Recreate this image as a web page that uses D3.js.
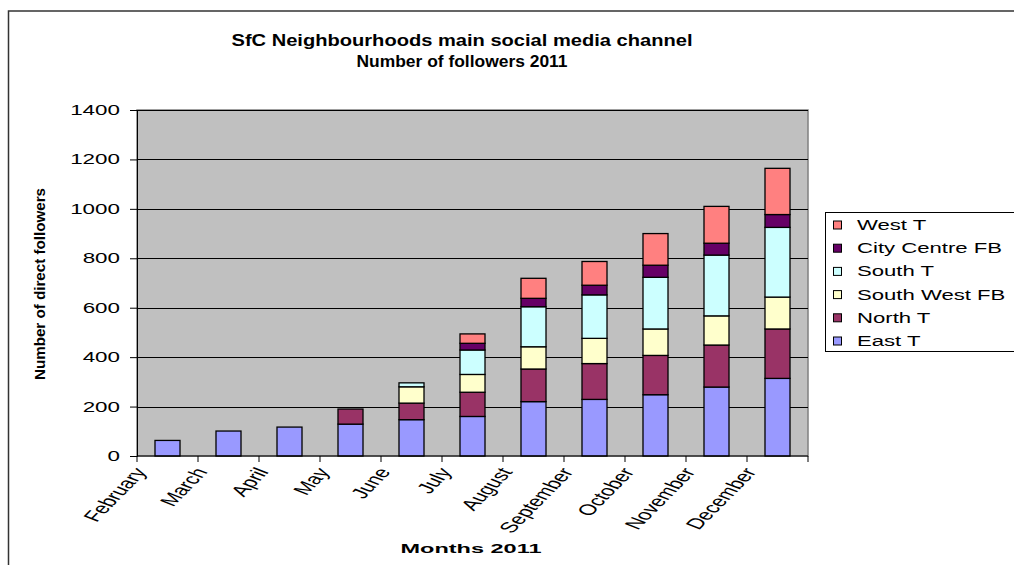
<!DOCTYPE html>
<html><head><meta charset="utf-8">
<script src="https://cdn.jsdelivr.net/npm/d3@7"></script>
<style>
body{margin:0;background:#fff;}
svg{display:block;font-family:"Liberation Sans",Arial,sans-serif;}
</style></head>
<body><svg id="c" width="1014" height="565"></svg>
<script>
const months = ["February","March","April","May","June","July","August","September","October","November","December"];
const eastT        = [63,101,117,129,147,160,220,229,248,279,314];
const northT       = [0,0,0,61,67,98,132,145,159,170,200];
const southWestFB  = [0,0,0,0,66,72,90,102,107,118,129];
const southT       = [0,0,0,0,16,99,162,176,209,246,282];
const cityCentreFB = [0,0,0,0,0,27,34,39,49,48,52];
const westT        = [0,0,0,0,0,38,81,96,128,149,187];
const seriesNames  = ["East T","North T","South West FB","South T","City Centre FB","West T"];
const seriesColors = ["#9999FF","#993366","#FFFFCC","#CCFFFF","#660066","#FF8080"];
const yTicks = [0,200,400,600,800,1000,1200,1400];

const seriesVals = [eastT,northT,southWestFB,southT,cityCentreFB,westT];
const rows = months.map((m,i)=>{const r={month:m};seriesNames.forEach((s,j)=>r[s]=seriesVals[j][i]);return r;});
const stack = d3.stack().keys(seriesNames)(rows);

const svg = d3.select("#c");
const L=137,R=808,T=110,B=456;
const x = d3.scaleBand().domain(months).range([L,R]).padding(0);
const y = d3.scaleLinear().domain([0,1400]).range([B,T]);
const barW = x.step()*0.41;

function stretch(sel,f){sel.each(function(){const w=this.getComputedTextLength();d3.select(this).attr("textLength",w*f).attr("lengthAdjust","spacingAndGlyphs");});}

// outer border
svg.append("rect").attr("x",8.5).attr("y",11).attr("width",1100).attr("height",700)
  .attr("fill","none").attr("stroke","#333").attr("stroke-width",1.5);

// plot area
svg.append("rect").attr("x",L).attr("y",T).attr("width",R-L).attr("height",B-T)
  .attr("fill","#C0C0C0").attr("stroke","#808080").attr("stroke-width",1.5);

// gridlines
svg.append("g").selectAll("line").data(yTicks.slice(1)).join("line")
  .attr("x1",L).attr("x2",R).attr("y1",d=>Math.round(y(d))+0.5).attr("y2",d=>Math.round(y(d))+0.5)
  .attr("stroke","#000").attr("stroke-width",1);

// bars
svg.append("g").selectAll("g").data(stack).join("g")
  .attr("fill",(d,i)=>seriesColors[i])
  .selectAll("rect").data(d=>d.filter(p=>p[1]-p[0]>0)).join("rect")
  .attr("x",d=>x(d.data.month)+(x.step()-barW)/2)
  .attr("width",barW)
  .attr("y",d=>y(d[1]))
  .attr("height",d=>y(d[0])-y(d[1]))
  .attr("stroke","#000").attr("stroke-width",1.3);

// y axis
const ya = svg.append("g").attr("transform",`translate(${L},0)`)
  .call(d3.axisLeft(y).tickValues(yTicks).tickSize(7).tickPadding(10).tickFormat(d3.format("d")));
ya.select(".domain").attr("stroke","#000");
ya.selectAll(".tick line").attr("stroke","#000");
ya.selectAll("text").attr("font-size",14).attr("fill","#000").attr("font-family","Liberation Sans, Arial").call(stretch,1.6);

// x axis
const xa = svg.append("g").attr("transform",`translate(0,${B})`);
xa.append("line").attr("x1",L).attr("x2",R).attr("stroke","#000");
const bounds = months.map(m=>x(m)).concat([R]);
xa.selectAll("line.t").data(bounds).join("line").attr("class","t")
  .attr("x1",d=>d).attr("x2",d=>d).attr("y1",0).attr("y2",6).attr("stroke","#000");
xa.selectAll("text").data(months).join("text")
  .attr("transform",d=>`translate(${x(d)-5},${10}) scale(1.6,1) rotate(-58)`)
  .attr("text-anchor","end").attr("dy","0.75em")
  .attr("font-size",15).attr("fill","#000").text(d=>d);

// titles
svg.append("text").attr("x",462).attr("y",46).attr("text-anchor","middle")
  .attr("font-size",17).attr("font-weight","bold").attr("textLength",461).attr("lengthAdjust","spacingAndGlyphs")
  .text("SfC Neighbourhoods main social media channel");
svg.append("text").attr("x",462).attr("y",67).attr("text-anchor","middle")
  .attr("font-size",17).attr("font-weight","bold").attr("textLength",211).attr("lengthAdjust","spacingAndGlyphs")
  .text("Number of followers 2011");
svg.append("text").attr("x",471).attr("y",553).attr("text-anchor","middle")
  .attr("font-size",13).attr("font-weight","bold").attr("textLength",141).attr("lengthAdjust","spacingAndGlyphs")
  .text("Months 2011");
svg.append("text").attr("transform","translate(45,284) rotate(-90)").attr("text-anchor","middle")
  .attr("font-size",14).attr("font-weight","bold").attr("textLength",192).attr("lengthAdjust","spacingAndGlyphs")
  .text("Number of direct followers");

// legend
const lg = svg.append("g");
lg.append("rect").attr("x",825.5).attr("y",212.5).attr("width",300).attr("height",139)
  .attr("fill","#fff").attr("stroke","#000");
const order = seriesNames.map((s,i)=>i).reverse();
const li = lg.selectAll("g.i").data(order).join("g").attr("class","i")
  .attr("transform",(d,k)=>`translate(0,${225+k*23.2})`);
li.append("rect").attr("x",833.5).attr("y",-4).attr("width",8).attr("height",8)
  .attr("fill",d=>seriesColors[d]).attr("stroke","#000");
li.append("text").attr("x",857).attr("y",5).attr("font-size",14).attr("fill","#000")
  .text(d=>seriesNames[d]).call(stretch,1.58);
</script></body></html>
